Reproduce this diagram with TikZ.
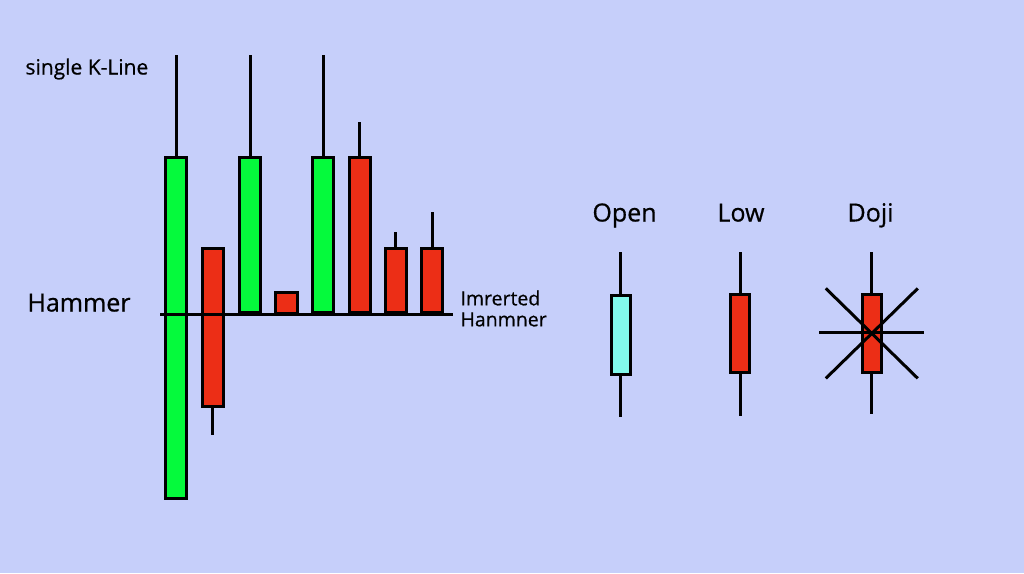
\documentclass[tikz,border=0pt]{standalone}
\usepackage{fontspec}
\setmainfont[FakeBold=0.6]{Open Sans}
\usetikzlibrary{positioning}
\definecolor{fundo}{RGB}{198,207,250}
\definecolor{alta}{RGB}{5,250,60}
\definecolor{baixa}{RGB}{236,46,22}
\definecolor{ciano}{RGB}{130,250,235}

\begin{document}
\begin{tikzpicture}[x=1pt, y=-1pt, line width=3pt,
  body/.style={draw=black, line width=3pt, minimum width=21pt, inner sep=0pt, outer sep=0pt},
  lbl/.style={font=\fontsize{25}{27}\selectfont, inner sep=0pt, anchor=base}]
  % fundo
  \fill[fundo] (0,0) rectangle (1024,573);
  \useasboundingbox (0,0) rectangle (1024,573);

  % velas da esquerda
  \node[body, fill=alta, minimum height=341pt] (c1) at (176.3,327.9) {};
  \node[body, fill=baixa, minimum height=158pt] (c2) at (212.5,327.2) {};
  \node[body, fill=alta, minimum height=155pt] (c3) at (250,235) {};
  \node[body, fill=baixa, minimum width=22pt, minimum height=21pt] (c4) at (286.5,302.5) {};
  \node[body, fill=alta, minimum height=155pt] (c5) at (323.2,235) {};
  \node[body, fill=baixa, minimum height=155pt] (c6) at (359.7,235) {};
  \node[body, fill=baixa, minimum height=64pt] (c7) at (395.7,280.5) {};
  \node[body, fill=baixa, minimum height=64pt] (c8) at (432.2,280.5) {};

  % pavios
  \foreach \c/\x/\t in {c1/176.3/55, c3/250/55, c5/323.2/55,
                        c6/359.7/121.7, c7/395.7/231.7, c8/432.2/212.3} {
    \coordinate (\c w) at (\x,\t);
    \draw (\c.north) -- (\c w);
  }
  \coordinate (c2w) at (212.5,435);
  \draw (c2.south) -- (c2w);

  % linha de base
  \coordinate (b0) at (160,314.3);
  \coordinate (b1) at (453,314.3);
  \draw (b0) -- (b1);

  \node[font=\fontsize{21}{22}\selectfont, anchor=base west, inner sep=0pt] (single) at (24,74.5) {single K-Line};
  \node[lbl] (hammer) at (79,311.5) {Hammer};
  \node[font=\fontsize{19.5}{21}\selectfont, align=left, anchor=north west, inner sep=0pt]
    (inverted) at (459,289) {Imrerted\\Hanmner};

  % velas da direita
  \node[body, fill=ciano, minimum width=19pt, minimum height=79pt] (open) at (620.8,334.8) {};
  \node[body, fill=baixa, minimum width=19pt, minimum height=78pt] (low) at (740.2,333.8) {};
  \node[body, fill=baixa, minimum width=19pt, minimum height=78pt] (doji) at (871.8,333.4) {};
  \foreach \c/\x/\t/\b in {open/620.8/252.3/417.3, low/740.2/252.3/416, doji/871.8/252.3/414} {
    \coordinate (\c t) at (\x,\t);
    \coordinate (\c b) at (\x,\b);
    \draw (\c.north) -- (\c t);
    \draw (\c.south) -- (\c b);
  }
  \node[lbl] (lopen) at (624.5,221.5) {Open};
  \node[lbl] (llow) at (741,221.5) {Low};
  \node[lbl] (ldoji) at (870.5,221.5) {Doji};

  % cruz do doji
  \draw ([xshift=-52.5pt, yshift=1pt]doji.center) -- ([xshift=52.5pt, yshift=1pt]doji.center);
  \draw ([shift={(-46,-45)}]doji.center) -- ([shift={(46,45)}]doji.center);
  \draw ([shift={(46,-45)}]doji.center) -- ([shift={(-46,45)}]doji.center);
\end{tikzpicture}
\end{document}
